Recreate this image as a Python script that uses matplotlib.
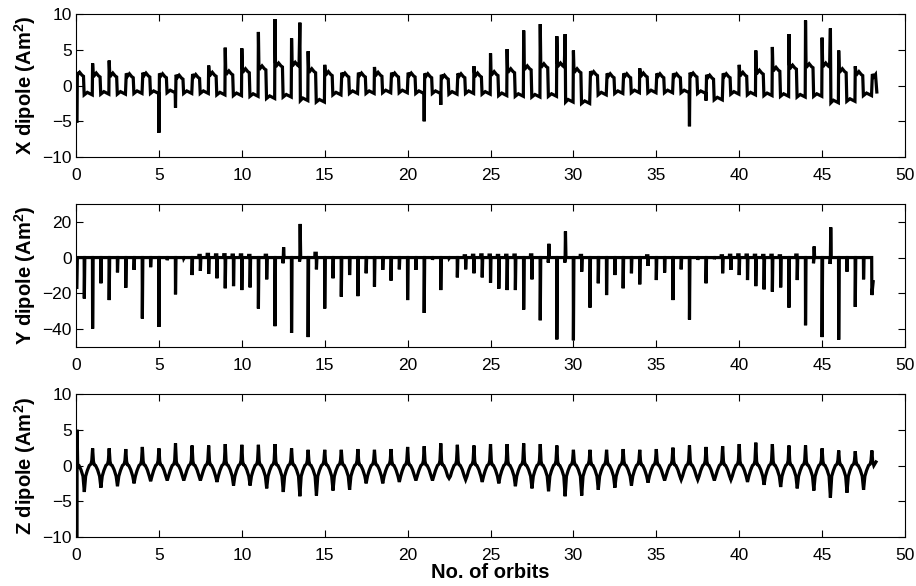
import matplotlib
matplotlib.use("Agg")
import matplotlib.pyplot as plt

plt.rcParams['font.family'] = ['Liberation Sans', 'DejaVu Sans']
plt.rcParams['mathtext.fontset'] = 'custom'
plt.rcParams['mathtext.rm'] = 'Liberation Sans'
plt.rcParams['mathtext.bf'] = 'Liberation Sans:bold'

# ---- X dipole: one plateau pair per orbit ----
x_start = -5.0
x_hi = [1.9, 1.8, 1.8, 1.7, 1.8, 1.7, 1.5, 1.6, 1.9, 2.1, 2.4, 2.8, 3.2, 3.3, 2.4, 2.0, 1.8,
        1.8, 1.9, 1.8, 1.8, 1.7, 1.5, 1.7, 1.8, 2.0, 2.4, 2.8, 3.1, 3.2, 2.4, 2.0, 1.7,
        1.7, 1.8, 1.7, 1.7, 1.8, 1.5, 1.7, 1.9, 2.2, 2.6, 2.9, 3.1, 3.2, 2.4, 2.0, 1.6]
x_lo = [-1.3, -1.2, -1.2, -1.1, -1.1, -1.0, -1.1, -1.1, -1.3, -1.4, -1.5, -1.8, -1.6, -2.1, -2.3, -1.3, -1.1,
        -1.1, -1.0, -1.0, -1.1, -1.1, -1.2, -1.1, -1.2, -1.4, -1.5, -1.6, -1.5, -2.3, -2.5, -1.3, -1.1,
        -1.0, -1.0, -1.0, -1.0, -1.1, -2.0, -1.2, -1.3, -1.4, -1.5, -1.6, -1.5, -2.4, -2.2, -1.4, -0.9]
# spikes (orbit -> value)
x_spike_t = [1, 2, 5, 6, 8, 9, 10, 11, 12, 13, 13.5, 14, 15, 18, 21, 22, 24, 25, 26, 27, 28, 29,
             29.5, 30, 34, 37, 38, 40, 41, 42, 43, 44, 45, 45.5, 46, 47]
x_spike_v = [3.1, 3.5, -6.6, -3.1, 2.8, 5.3, 5.2, 7.5, 9.3, 6.6, 8.8, 4.8, 2.9, 2.6, -5.0, -2.7, 2.7,
             4.5, 5.1, 7.7, 8.6, 6.9, 7.2, 4.9, 2.4, -5.7, -2.1, 2.9, 4.9, 5.4, 7.2, 9.1, 6.7, 8.0,
             4.9, 2.7]
x_end = 48.3

# ---- Y dipole: spike depth every half orbit (0, 0.5, ..., 48) ----
y_dn = [-16.7, -22.9, -39.8, -14.4, -23.8, -8.3, -16.9, -6.9, -34.1, -5.4,
        -38.8, -1.5, -20.6, -0.5, -9.8, -7.5, -9.2, -11.6, -17.2, -16.0,
        -18.2, -16.7, -28.5, -12.2, -38.4, -3.2, -42.2, -2.2, -44.5, -6.6,
        -28.5, -11.6, -21.9, -9.8, -21.6, -8.8, -16.3, -6.9, -12.9, -6.6,
        -23.8, -6.9, -31.0, -1.3, -18.2, -0.4, -11.1, -6.6, -8.8, -11.1,
        -14.1, -17.4, -18.2, -18.2, -29.1, -12.2, -35.1, -2.8, -45.8, -2.8,
        -46.3, -7.9, -28.0, -14.4, -21.0, -9.8, -17.2, -8.8, -15.0, -4.7,
        -12.6, -8.4, -23.8, -6.6, -34.7, -1.3, -14.4, -0.9, -8.8, -6.9,
        -9.8, -12.6, -16.0, -17.8, -19.1, -16.7, -28.0, -12.6, -37.9, -3.2,
        -44.5, -3.6, -46.0, -7.9, -27.6, -12.2, -21.0]
y_up_t = [12.5, 13.5, 28.5, 29.5, 44.5, 45.5]
y_up_v = [5.8, 18.8, 7.7, 14.6, 6.2, 16.9]
y_bump_t = [7.5, 8.0, 8.5, 9.0, 9.5, 10.0, 10.5, 11.5, 14.5, 23.5, 24.0, 24.5, 25.0, 25.5,
            26.0, 26.5, 27.5, 30.5, 34.5, 39.0, 39.5, 40.0, 40.5, 41.0, 41.5, 42.0, 42.5, 43.5]
y_bump_v = [1.2, 1.8, 1.5, 1.6, 1.4, 1.5, 1.2, 1.3, 2.4, 1.0, 1.3, 1.5, 1.4, 1.2,
            1.3, 1.4, 1.5, 1.2, 1.0, 1.0, 1.3, 1.5, 1.4, 1.3, 1.2, 1.3, 1.0, 1.4]
y_end_v = -13.5

# ---- Z dipole: peak at each orbit, dip at each half orbit ----
z_start = -10.5
z_peak = [5.0, 2.4, 2.4, 2.3, 2.6, 2.4, 3.1, 2.8, 2.8, 3.0, 2.9, 2.9, 3.0, 2.4, 2.2, 2.2, 2.2,
          2.3, 2.2, 2.3, 2.6, 2.7, 3.1, 2.9, 2.8, 3.0, 3.0, 3.1, 3.0, 2.8, 2.2, 2.2, 2.2,
          2.3, 2.2, 2.3, 2.5, 2.8, 2.6, 2.7, 3.0, 3.2, 3.0, 2.8, 2.8, 2.4, 2.1, 2.0, 2.1]
z_dip = [-3.7, -3.1, -2.9, -2.5, -2.2, -2.1, -2.1, -2.1, -2.3, -2.8, -2.8, -3.2, -3.7, -4.3,
         -4.2, -3.5, -3.4, -2.5, -2.5, -2.3, -2.1, -2.1, -1.8, -2.0, -2.3, -2.5, -2.9, -3.2,
         -3.6, -4.3, -4.2, -3.4, -3.1, -2.8, -2.4, -2.1, -2.0, -2.0, -2.1, -2.0, -2.3, -2.7,
         -3.0, -3.2, -3.5, -4.5, -3.8, -3.4]
z_end_v = 0.5

orbit_ticks = list(range(0, 51, 5))


def x_trace():
    spikes = dict(zip(x_spike_t, x_spike_v))
    t, v = [0.06], [x_start]
    for k, (hi, lo) in enumerate(zip(x_hi, x_lo)):
        if k in spikes:
            t.append(k); v.append(spikes[k])
        seg = [(0.08 if k == 0 else 0.03, hi), (0.12, hi - 0.35), (0.22, hi - 0.05),
               (0.36, hi - 0.45), (0.45, hi - 0.6)]
        if k + 0.5 in spikes:
            seg += [(0.5, spikes[k + 0.5]), (0.53, lo)]
        else:
            seg += [(0.49, lo)]
        seg += [(0.68, lo + 0.35), (0.85, lo + 0.15), (0.98, lo)]
        for p, val in seg:
            if k + p < x_end:
                t.append(k + p); v.append(val)
    t.append(x_end); v.append(x_lo[-1])
    return t, v


def y_trace():
    ups = dict(zip(y_up_t, y_up_v))
    bumps = dict(zip(y_bump_t, y_bump_v))
    t, v = [], []
    for j, dn in enumerate(y_dn):
        c = 0.5 * j if j > 0 else 0.05
        if j > 0:
            b = bumps.get(c, 0.0)
            t += [c - 0.1, c - 0.09, c - 0.01]; v += [0.0, b, b]
        if c in ups:
            t += [c - 0.02, c, c + 0.02, c + 0.05]; v += [dn, 0.0, ups[c], 0.0]
        else:
            t += [c, c + 0.03]; v += [dn, 0.0]
    t[-1] = 48.08; v[-1] = y_end_v
    return t, v


def z_trace():
    t, v = [0.06], [z_start]
    shape_a = [(0.05, 0.6), (0.1, 0.1), (0.18, 0.0), (0.3, -0.6), (0.42, -1.5)]
    shape_b = [(0.58, -1.5), (0.68, -0.7), (0.8, 0.0), (0.9, 0.2), (0.95, 0.7)]
    for k, pk in enumerate(z_peak):
        t.append(k + (0.065 if k == 0 else 0.0)); v.append(pk)
        if k < len(z_dip):
            for p, val in shape_a[(1 if k == 0 else 0):]:
                t.append(k + p); v.append(val)
            t.append(k + 0.5); v.append(z_dip[k])
            for p, val in shape_b:
                t.append(k + p); v.append(val)
    t += [48.05, 48.12, 48.25]; v += [0.6, 0.0, z_end_v]
    return t, v


fig = plt.figure(figsize=(9.16, 5.86), dpi=100)
panels = [
    ([0.083, 0.732, 0.905, 0.244], x_trace(), (-10, 10), [-10, -5, 0, 5, 10], 'X'),
    ([0.083, 0.408, 0.905, 0.244], y_trace(), (-50, 30), [-40, -20, 0, 20], 'Y'),
    ([0.083, 0.0836, 0.905, 0.244], z_trace(), (-10, 10), [-10, -5, 0, 5, 10], 'Z'),
]
for rect, (t, v), ylim, yticks, name in panels:
    ax = fig.add_axes(rect)
    ax.plot(t, v, color='black', lw=2.3, solid_joinstyle='miter')
    ax.set_xlim(0, 50)
    ax.set_ylim(*ylim)
    ax.set_xticks(orbit_ticks)
    ax.set_yticks(yticks)
    ax.tick_params(direction='in', top=True, right=True, length=5, width=0.8,
                   labelsize=12.5, pad=3)
    ax.tick_params(axis='x', pad=8)
    for s in ax.spines.values():
        s.set_linewidth(0.8)
    ax.set_ylabel(name + r' dipole (Am$^\mathbf{2}$)', fontsize=14.5, fontweight='bold', labelpad=3)

ax.set_xlabel('No. of orbits', fontsize=14.5, fontweight='bold', labelpad=0)

fig.savefig('out.png', dpi=100)
